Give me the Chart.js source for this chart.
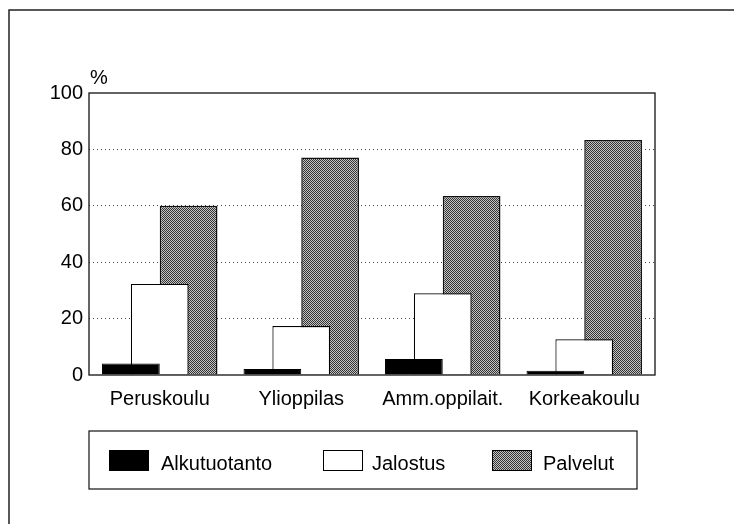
<!DOCTYPE html>
<html>
<head>
<meta charset="utf-8">
<script src="https://cdn.jsdelivr.net/npm/chart.js@4.4.0/dist/chart.umd.min.js"></script>
<style>
  html, body { margin: 0; padding: 0; background: #fff; }
  #wrap { width: 734px; height: 524px; }
</style>
</head>
<body>
<div id="wrap"><canvas id="grafico" width="734" height="524"></canvas></div>
<script>
const koulutus = ['Peruskoulu', 'Ylioppilas', 'Amm.oppilait.', 'Korkeakoulu'];
const alkutuotanto = [4.1, 2.1, 5.7, 1.5];
const jalostus = [32.3, 17.4, 29.0, 12.7];
const palvelut = [60.0, 77.1, 63.5, 83.3];
const yTicks = [0, 20, 40, 60, 80, 100];

const fontFamily = "Helvetica, 'Liberation Sans', Arial, sans-serif";

// rasteroitu harmaa kuvio
function makePattern() {
    const c = document.createElement('canvas');
    c.width = 2;
    c.height = 2;
    const g = c.getContext('2d');
    g.fillStyle = '#c4c4c4';
    g.fillRect(0, 0, 2, 2);
    g.fillStyle = '#333';
    g.fillRect(0, 0, 1, 1);
    g.fillRect(1, 1, 1, 1);
    return g.createPattern(c, 'repeat');
}
const harmaa = makePattern();

const kehys = {
    id: 'kehys',
    afterDraw(chart) {
        const ctx = chart.ctx;
        const a = chart.chartArea;
        ctx.save();
        // ulkokehys
        ctx.strokeStyle = '#222';
        ctx.lineWidth = 1.5;
        ctx.beginPath();
        ctx.moveTo(9, 524);
        ctx.lineTo(9, 10);
        ctx.lineTo(734, 10);
        ctx.stroke();
        // kuva-alan reunat
        ctx.lineWidth = 1.3;
        ctx.strokeStyle = '#111';
        ctx.strokeRect(a.left, a.top, a.right - a.left, a.bottom - a.top);
        // yksikko
        ctx.fillStyle = '#000';
        ctx.font = '20px ' + fontFamily;
        ctx.textBaseline = 'alphabetic';
        ctx.fillText('%', 90, 84);
        // selite
        ctx.lineWidth = 1.2;
        ctx.strokeRect(89, 431, 548, 58);
        const swatchX = [109, 323, 492];
        const textX = [161, 372, 543];
        chart.data.datasets.forEach((ds, i) => {
            ctx.fillStyle = ds.backgroundColor;
            ctx.fillRect(swatchX[i], 450, 40, 21);
            ctx.strokeStyle = '#000';
            ctx.lineWidth = 1;
            ctx.strokeRect(swatchX[i] + 0.5, 450.5, 39, 20);
            ctx.fillStyle = '#000';
            ctx.fillText(ds.label, textX[i], 470);
        });
        ctx.restore();
    }
};

const config = {
    type: 'bar',
    data: {
        labels: koulutus,
        datasets: [
            { label: 'Alkutuotanto', data: alkutuotanto, backgroundColor: '#000', borderColor: '#000', borderWidth: 1 },
            { label: 'Jalostus', data: jalostus, backgroundColor: '#fff', borderColor: '#000', borderWidth: 1.2 },
            { label: 'Palvelut', data: palvelut, backgroundColor: harmaa, borderColor: '#111', borderWidth: 1.5 }
        ]
    },
    options: {
        responsive: false,
        animation: false,
        events: [],
        categoryPercentage: 0.612,
        barPercentage: 2.0,
        layout: { padding: { left: 0, top: 93, right: 79, bottom: 106 } },
        plugins: { legend: { display: false }, tooltip: { enabled: false } },
        scales: {
            x: {
                grid: { display: false },
                border: { display: false },
                ticks: { color: '#000', padding: 4, font: { size: 20, family: fontFamily } },
                afterFit: (s) => { s.height = 43; }
            },
            y: {
                min: 0,
                max: 100,
                afterBuildTicks: (s) => { s.ticks = yTicks.map(v => ({ value: v })); },
                grid: {
                    drawTicks: false,
                    color: (c) => (c.tick.value === 0 || c.tick.value === 100) ? 'rgba(0,0,0,0)' : '#444',
                    lineWidth: 1
                },
                border: { display: false, dash: [1, 3] },
                ticks: { color: '#000', padding: 6, font: { size: 20, family: fontFamily } },
                afterFit: (s) => { s.width = 89; }
            }
        }
    },
    plugins: [kehys]
};

const myChart = new Chart(document.getElementById('grafico'), config);
</script>
</body>
</html>
